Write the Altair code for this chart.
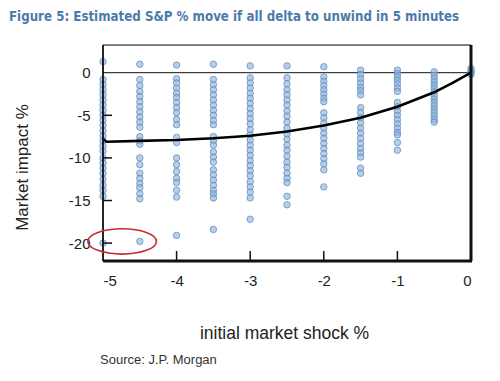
import altair as alt
import pandas as pd

# ---- data ----
shock_levels = [-5.0, -4.5, -4.0, -3.5, -3.0, -2.5, -2.0, -1.5, -1.0, -0.5, 0.0]
col_m50 = [1.3, -0.8, -1.4, -2.0, -2.6, -3.2, -3.8, -4.4, -5.0, -5.6, -6.2, -6.8, -7.4, -8.0, -8.6, -9.2, -10.0, -10.6, -11.2, -11.8, -12.5, -13.2, -13.8, -14.5, -20.0]
col_m45 = [1.0, -0.8, -1.5, -2.2, -2.8, -3.4, -4.0, -4.6, -5.2, -5.8, -6.4, -7.5, -8.0, -8.4, -10.0, -10.8, -11.8, -12.4, -13.0, -13.5, -14.2, -14.8, -19.8]
col_m40 = [0.9, -0.7, -1.2, -1.8, -2.4, -2.9, -3.5, -4.1, -4.7, -5.5, -6.1, -7.6, -8.2, -10.0, -10.8, -11.6, -12.4, -12.9, -13.8, -14.6, -19.1]
col_m35 = [1.0, -0.8, -1.4, -2.0, -2.6, -3.2, -3.8, -4.4, -5.0, -5.6, -6.1, -7.5, -8.0, -8.5, -9.3, -9.9, -10.5, -11.4, -12.0, -12.6, -13.2, -13.8, -14.2, -14.7, -18.4]
col_m30 = [0.8, -0.6, -1.2, -1.8, -2.4, -3.0, -3.6, -4.2, -4.8, -5.4, -6.0, -6.7, -7.3, -7.9, -8.5, -9.1, -9.7, -10.3, -10.9, -11.5, -12.1, -12.8, -13.4, -14.0, -14.7, -17.2]
col_m25 = [0.8, -0.6, -1.3, -2.0, -2.6, -3.2, -3.8, -4.5, -5.1, -5.8, -6.5, -7.2, -7.8, -8.5, -9.1, -9.8, -10.5, -11.1, -11.8, -12.4, -12.9, -14.5, -15.5]
col_m20 = [0.7, -0.5, -1.0, -1.5, -2.0, -2.5, -3.0, -3.4, -4.7, -5.3, -5.9, -6.5, -7.1, -7.7, -8.3, -8.9, -9.5, -10.1, -10.7, -11.4, -13.4]
col_m15 = [0.3, -0.2, -0.7, -1.2, -1.7, -2.1, -2.6, -4.1, -4.7, -5.3, -5.9, -6.5, -7.1, -7.7, -8.3, -8.9, -9.4, -9.9, -11.2, -11.8]
col_m10 = [0.3, -0.1, -0.5, -0.9, -1.3, -1.8, -2.2, -3.5, -4.0, -4.5, -5.0, -5.5, -6.0, -6.5, -7.0, -7.3, -8.2, -9.1]
col_m05 = [0.1, -0.3, -0.7, -1.1, -1.5, -1.9, -2.3, -2.7, -3.1, -3.5, -3.9, -4.3, -4.7, -5.1, -5.5, -5.8]
col_00 = [0.5, 0.2, 0.0, -0.2]
columns = [col_m50, col_m45, col_m40, col_m35, col_m30, col_m25, col_m20, col_m15, col_m10, col_m05, col_00]

avg_x = [-5.0, -4.95, -4.5, -4.0, -3.5, -3.0, -2.5, -2.0, -1.5, -1.0, -0.5, -0.25, 0.0]
avg_y = [-7.8, -8.1, -8.0, -7.9, -7.7, -7.4, -6.9, -6.2, -5.3, -4.0, -2.3, -1.2, 0.0]

x_ticks = [-5, -4, -3, -2, -1, 0]
x_inner_ticks = [-4, -3, -2, -1]
y_ticks = [0, -5, -10, -15, -20]
y_inner_ticks = [-5, -10, -15, -20]
highlight_x = [-4.74]
highlight_y = [-19.8]

W, H = 368, 216
FONT = "Liberation Sans"

rows = []
for sx, vals in zip(shock_levels, columns):
    for v in vals:
        rows.append({"shock": sx, "impact": v})
pts = pd.DataFrame(rows)
avg = pd.DataFrame({"shock": avg_x, "impact": avg_y})

xs = alt.Scale(domain=[-5, 0], nice=False, zero=False)
ys = alt.Scale(domain=[-22.1, 3.25], nice=False, zero=False)

x_axis = alt.Axis(values=x_ticks, ticks=False, domain=False, grid=False,
                  labelExpr="datum.value + ''",
                  labelFontSize=15, labelFont=FONT, labelColor="#222", labelPadding=12,
                  title="initial market shock %", titleFontSize=17.5, titleFont=FONT,
                  titleFontWeight="normal", titleColor="#222",
                  titleX=W / 2 - 3, titleY=72, titleBaseline="middle", titleAlign="center")
y_axis = alt.Axis(values=y_ticks, ticks=False, domain=False, grid=False,
                  labelExpr="datum.value + ''",
                  labelFontSize=15, labelFont=FONT, labelColor="#222", labelPadding=13,
                  title="Market impact %", titleFontSize=17, titleFont=FONT,
                  titleFontWeight="normal", titleColor="#222",
                  titleX=-81, titleY=122, titleBaseline="middle", titleAlign="center", titleAngle=270)

points = alt.Chart(pts).mark_point(
    shape="circle", size=42, filled=True, fill="#8fb1d8", fillOpacity=0.62,
    stroke="#5a8bbf", strokeOpacity=0.75, strokeWidth=1
).encode(
    x=alt.X("shock:Q", scale=xs, axis=x_axis),
    y=alt.Y("impact:Q", scale=ys, axis=y_axis),
)

zero_line = alt.Chart(pd.DataFrame({"y": [0]})).mark_rule(color="#111", strokeWidth=1).encode(
    y=alt.Y("y:Q", scale=ys), x=alt.value(0), x2=alt.value(W))

avg_line = alt.Chart(avg).mark_line(color="#000", strokeWidth=2.6).encode(
    x=alt.X("shock:Q", scale=xs), y=alt.Y("impact:Q", scale=ys))

yt = alt.Chart(pd.DataFrame({"y": y_inner_ticks})).mark_rule(color="#111", strokeWidth=1.5).encode(
    y=alt.Y("y:Q", scale=ys), x=alt.value(0), x2=alt.value(9))
xt = alt.Chart(pd.DataFrame({"x": x_inner_ticks})).mark_rule(color="#111", strokeWidth=1.5).encode(
    x=alt.X("x:Q", scale=xs), y=alt.value(H), y2=alt.value(H - 10))

frame_df = pd.DataFrame({"k": [0]})
left_border = alt.Chart(frame_df).mark_rule(color="#111", strokeWidth=1.8).encode(
    x=alt.value(0), y=alt.value(0), y2=alt.value(H))
top_border = alt.Chart(frame_df).mark_rule(color="#111", strokeWidth=1).encode(
    x=alt.value(0), x2=alt.value(W), y=alt.value(0))
bottom_border = alt.Chart(frame_df).mark_rule(color="#111", strokeWidth=3).encode(
    x=alt.value(0), x2=alt.value(W + 1), y=alt.value(H))
right_border = alt.Chart(frame_df).mark_rule(color="#111", strokeWidth=3).encode(
    x=alt.value(W), y=alt.value(0), y2=alt.value(H))

ellipse_path = ("M-1,0 C-1,-0.204 -0.552,-0.37 0,-0.37 C0.552,-0.37 1,-0.204 1,0 "
                "C1,0.204 0.552,0.37 0,0.37 C-0.552,0.37 -1,0.204 -1,0 Z")
highlight = alt.Chart(pd.DataFrame({"x": highlight_x, "y": highlight_y})).mark_point(
    shape=ellipse_path, size=4700, filled=False, stroke="#c62a32", strokeWidth=1.6, opacity=1
).encode(x=alt.X("x:Q", scale=xs), y=alt.Y("y:Q", scale=ys))

title_txt = alt.Chart(pd.DataFrame({"t": ["Figure 5: Estimated S&P % move if all delta to unwind in 5 minutes"]})).mark_text(
    align="left", baseline="middle", fontSize=13.2, fontWeight="bold",
    font="DejaVu Sans Condensed", color="#4d7aa9"
).encode(text="t:N", x=alt.value(-94), y=alt.value(-28))

source_txt = alt.Chart(pd.DataFrame({"t": ["Source: J.P. Morgan"]})).mark_text(
    align="left", baseline="middle", fontSize=13, font=FONT, color="#333"
).encode(text="t:N", x=alt.value(-3), y=alt.value(315))

chart = alt.layer(
    zero_line, points, avg_line, yt, xt, left_border, top_border, bottom_border, right_border,
    highlight, title_txt, source_txt
).properties(
    width=W, height=H, autosize="none",
    padding={"left": 95, "top": 37, "right": 21, "bottom": 112}
).configure_view(stroke=None).configure(background="white")

chart.save("out.html", embed_options={"renderer": "svg", "actions": False})
